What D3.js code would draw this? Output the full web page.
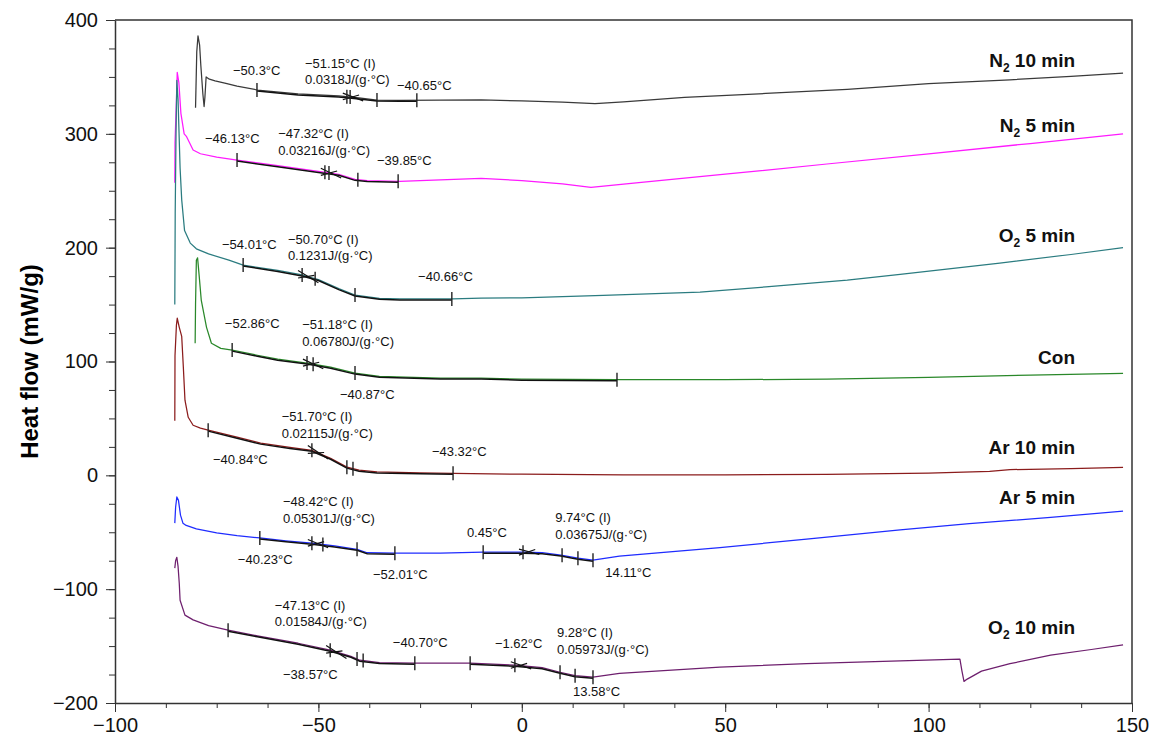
<!DOCTYPE html>
<html>
<head>
<meta charset="utf-8">
<script src="https://cdn.jsdelivr.net/npm/d3@7"></script>
<style>
  body { margin: 0; background: #fff; }
  text { font-family: "Liberation Sans", Arial, sans-serif; }
</style>
</head>
<body>
<script>
//DSC heat flow curves
//each series is [temperature (°C), heat flow (mW/g)]
var n2_10min = [[-80.2,323],[-79.9,372],[-79.6,386],[-79.2,378],[-78.9,360],[-78.4,335],[-78.1,324],[-77.9,332],
    [-77.6,350],[-76.8,348],[-75.4,346.5],[-73,344.5],[-70,342],[-65,338.5],[-55,335],[-45,333.3],[-40,331.5],
    [-35.6,329.7],[-30,329.5],[-20,329.6],[-10,329.8],[0,329],[10,327.8],[18,326.5],[25,328],[40,332],
    [60,335.5],[80,339],[100,344],[120,347.5],[135,350.5],[147.8,353.3]];
var n2_5min = [[-85.3,257],[-85.25,292],[-84.9,330],[-84.7,354],[-84.3,345],[-83.8,318],[-83,300],[-82.4,297.5],
    [-80.8,285.8],[-79,282.5],[-75,279.5],[-70,277],[-60,272],[-50,267],[-45,264.5],[-41,260],[-38,259],
    [-30,258.3],[-20,259.5],[-10,260.8],[0,259],[10,256],[17,253],[30,257.5],[50,264.5],[75,273.5],
    [100,282.5],[125,291.5],[147.8,300]];
var o2_5min = [[-85.3,150],[-85.2,230],[-85,300],[-84.8,347],[-84.5,330],[-84,270],[-83.6,242],[-82.9,215],
    [-81.5,204],[-80,199],[-77,194.5],[-72,189],[-68.5,184.7],[-60,180],[-54,176],[-50,172],[-45,164],
    [-41,158.4],[-35,155.5],[-30,155],[-17,155],[-10,155.7],[0,156],[20,158],[43.8,161],[60,165.5],
    [80,171.5],[93,176.5],[117.5,186.5],[135,194],[147.8,200]];
var con = [[-80.3,116],[-80.2,150],[-80,189],[-79.7,191],[-79.3,175],[-78.8,154],[-77.5,130],[-76.3,116],
    [-74,111.5],[-71.2,110],[-65,105.5],[-60,102],[-52.8,98.6],[-47,95],[-41,89.8],[-35,87],[-20,85.5],
    [-10,85.4],[0,84.5],[23.4,84],[50,84],[75,84.5],[100,86],[125,88],[147.8,89.5]];
var ar_10min = [[-85.3,48],[-85.25,105],[-84.9,132],[-84.7,138],[-84.2,130],[-83.6,122],[-83.2,95],[-82.8,66],
    [-82,51],[-80.8,44],[-79,41.5],[-77.1,39.7],[-70,33.5],[-64.2,28.3],[-57,24.5],[-51.6,22],[-47,15],
    [-43,7.2],[-40,4.5],[-35.6,3],[-25,2.2],[-16.9,1.8],[0,1],[25,0.5],[50,0.5],[75,0.8],[100,2],
    [115,3.5],[120,5],[135,6],[147.8,7]];
var ar_5min = [[-85.3,-42],[-85.1,-28],[-84.8,-19],[-84.4,-22],[-83.9,-35],[-83.3,-42],[-82.5,-44],[-80,-47],
    [-75,-50.5],[-70,-53],[-64.4,-55],[-58,-57.5],[-51.6,-59.6],[-46,-62],[-40.5,-65],[-38,-68],
    [-31.2,-68.4],[-20,-68.4],[-9.5,-67.5],[0.3,-67.5],[5,-68],[9.6,-70],[13.8,-72.8],[17.5,-74.5],
    [24,-71],[48.7,-63.5],[70,-56],[93,-48],[110,-42.5],[130,-37],[147.8,-31.5]];
var o2_10min = [[-85.3,-81.5],[-85.1,-75],[-84.8,-72],[-84.5,-80],[-84.2,-95],[-84,-109.7],[-82.8,-122.8],
    [-80.8,-127],[-77,-132],[-72.2,-136],[-65,-141],[-55,-147.5],[-47.1,-153.6],[-42,-159],[-39.8,-162.4],
    [-35,-164.5],[-26.3,-165],[-12.7,-165],[-1.7,-166.8],[5,-169],[9.4,-173],[13.1,-176],[17.5,-177.3],
    [24,-174],[48.7,-168.5],[70,-165.5],[93,-163],[107.7,-161.5],[108.2,-172],[108.7,-181],[109.5,-179],
    [113,-172],[120,-165.5],[130,-158],[140,-153],[147.8,-149]];

var seriesData = [n2_10min, n2_5min, o2_5min, con, ar_10min, ar_5min, o2_10min];
//name parts: main text, subscript, rest
var seriesNames = [["N","2"," 10 min"],["N","2"," 5 min"],["O","2"," 5 min"],["Con","",""],
    ["Ar 10 min","",""],["Ar 5 min","",""],["O","2"," 10 min"]];
var seriesColors = ["#3a3a3a","#ff1aff","#2b7c80","#2a882a","#8b1c1c","#1f2cff","#6e1f6e"];
//where each name sits (temperature, heat flow of baseline)
var nameAnchors = [[136,358.7],[136,302],[136,205],[136,97.7],[136,19],[136,-25.3],[136,-139.1]];

//analysis marks: tick temperatures and the black fitted ranges
var markTicks = [
    [-65.1,-43.0,-42.2,-35.6,-25.8],
    [-70.0,-48.4,-47.4,-40.3,-30.4],
    [-68.5,-54.0,-50.8,-41.0,-17.2],
    [-71.2,-52.8,-51.3,-41.0,23.4],
    [-77.1,-51.6,-43.0,-41.5,-16.9],
    [-64.4,-51.6,-48.9,-40.5,-31.2,-9.5,0.3,9.9,13.8,17.5],
    [-72.2,-47.1,-40.5,-39.0,-26.3,-12.7,-1.7,9.4,13.1,17.5]
];
var markRanges = [
    [[-65.1,-25.8]],
    [[-70,-30.4]],
    [[-68.5,-17.2]],
    [[-71.2,23.4]],
    [[-77.1,-16.9]],
    [[-64.4,-31.2],[-9.5,17.5]],
    [[-72.2,-26.3],[-12.7,17.5]]
];
//inflection points (first tick of each glass transition step)
var inflections = [[0,-43.0],[1,-48.4],[2,-54.0],[3,-52.8],[4,-51.6],[5,-51.6],[5,0.3],[6,-47.1],[6,-1.7]];

//annotation texts: [text, temperature, heat flow] of the text's left baseline
var annotations = [
    ["\u221250.3\u00b0C",-71.0,351.7],["\u221251.15\u00b0C (I)",-53.3,357.8],["0.0318J/(g\u00b7\u00b0C)",-53.3,344.2],
    ["\u221240.65\u00b0C",-30.7,338.5],
    ["\u221246.13\u00b0C",-77.9,291.9],["\u221247.32\u00b0C (I)",-59.9,296.7],["0.03216J/(g\u00b7\u00b0C)",-59.9,281.8],
    ["\u221239.85\u00b0C",-35.6,273.0],
    ["\u221254.01\u00b0C",-73.7,198.8],["\u221250.70\u00b0C (I)",-57.5,203.6],["0.1231J/(g\u00b7\u00b0C)",-57.5,189.1],
    ["\u221240.66\u00b0C",-25.5,170.7],
    ["\u221252.86\u00b0C",-73.0,129.3],["\u221251.18\u00b0C (I)",-54.0,128.9],["0.06780J/(g\u00b7\u00b0C)",-54.0,113.5],
    ["\u221240.87\u00b0C",-44.7,67.0],
    ["\u221251.70\u00b0C (I)",-59.0,47.6],["0.02115J/(g\u00b7\u00b0C)",-59.0,32.7],["\u221240.84\u00b0C",-75.9,9.8],
    ["\u221243.32\u00b0C",-22.1,16.9],
    ["\u221248.42\u00b0C (I)",-58.7,-27.1],["0.05301J/(g\u00b7\u00b0C)",-58.7,-42.0],["\u221240.23\u00b0C",-69.8,-78.0],
    ["\u221252.01\u00b0C",-36.6,-91.2],["0.45\u00b0C",-13.5,-54.3],["9.74\u00b0C (I)",8.2,-41.1],
    ["0.03675J/(g\u00b7\u00b0C)",8.2,-55.6],["14.11\u00b0C",20.5,-89.5],
    ["\u221247.13\u00b0C (I)",-60.7,-118.5],["0.01584J/(g\u00b7\u00b0C)",-60.7,-132.5],["\u221238.57\u00b0C",-58.7,-179.1],
    ["\u221240.70\u00b0C",-31.7,-151.0],["\u22121.62\u00b0C",-6.6,-151.8],["9.28\u00b0C (I)",8.65,-142.2],
    ["0.05973J/(g\u00b7\u00b0C)",8.65,-156.7],["13.58\u00b0C",12.6,-194.0]
];

var xTicks = [-100,-50,0,50,100,150];
var yTicks = [-200,-100,0,100,200,300,400];

var width = 1153, height = 738;
var plotLeft = 115, plotRight = 1132, plotTop = 20, plotBottom = 703;

var svg = d3.select("body")
    .append("svg")
    .attr("width", width)
    .attr("height", height);

//scales
var x = d3.scaleLinear()
    .domain([-100, 150])
    .range([plotLeft, plotRight]);

var y = d3.scaleLinear()
    .domain([-200, 400])
    .range([plotBottom, plotTop]);

function fmt(d){
    return d < 0 ? "\u2212" + Math.abs(d) : String(d);
}

//minor ticks first so the major ones sit over them
svg.append("g")
    .attr("transform", "translate(0," + plotBottom + ")")
    .call(d3.axisBottom(x).tickValues(d3.range(-100, 150.1, 12.5)).tickSize(5).tickFormat(""))
    .call(function(g){ g.select(".domain").remove(); });

svg.append("g")
    .attr("transform", "translate(" + plotLeft + ",0)")
    .call(d3.axisLeft(y).tickValues(d3.range(-200, 400.1, 25)).tickSize(6).tickFormat(""))
    .call(function(g){ g.select(".domain").remove(); });

var xAxis = svg.append("g")
    .attr("class", "axis")
    .attr("transform", "translate(0," + plotBottom + ")")
    .call(d3.axisBottom(x).tickValues(xTicks).tickSize(9).tickPadding(6).tickSizeOuter(0).tickFormat(fmt));

var yAxis = svg.append("g")
    .attr("class", "axis")
    .attr("transform", "translate(" + plotLeft + ",0)")
    .call(d3.axisLeft(y).tickValues(yTicks).tickSize(9).tickPadding(8).tickSizeOuter(0).tickFormat(fmt));

svg.selectAll(".axis text")
    .style("font-size", "20px")
    .style("fill", "#111");
svg.selectAll(".tick line").style("stroke", "#333");
svg.selectAll(".domain").style("stroke", "#333").style("stroke-width", 1.5);

//top and right edges of the frame
svg.append("path")
    .attr("d", "M" + plotLeft + "," + y(400) + "H" + x(150) + "V" + y(-200))
    .style("fill", "none")
    .style("stroke", "#333")
    .style("stroke-width", 1.5);

svg.append("text")
    .attr("transform", "translate(38," + ((plotTop + plotBottom) / 2) + ") rotate(-90)")
    .attr("text-anchor", "middle")
    .style("font-size", "24px")
    .style("font-weight", "bold")
    .text("Heat flow (mW/g)");

var line = d3.line()
    .x(function(d){ return x(d[0]); })
    .y(function(d){ return y(d[1]); });

//heat flow at a given temperature, linear between read points
function valueAt(data, t){
    var i = d3.bisector(function(d){ return d[0]; }).left(data, t);
    if (i <= 0) return data[0][1];
    if (i >= data.length) return data[data.length - 1][1];
    var a = data[i - 1], b = data[i];
    return a[1] + (b[1] - a[1]) * (t - a[0]) / (b[0] - a[0]);
}

//the curves
svg.selectAll(".curve")
    .data(seriesData)
    .enter()
    .append("path")
    .attr("class", "curve")
    .attr("d", line)
    .style("fill", "none")
    .style("stroke", function(d, i){ return seriesColors[i]; })
    .style("stroke-width", 1.25)
    .style("stroke-linejoin", "round");

//black fitted segments over the curves
markRanges.forEach(function(ranges, i){
    var data = seriesData[i];
    ranges.forEach(function(r){
        var pts = [[r[0], valueAt(data, r[0])]]
            .concat(data.filter(function(d){ return d[0] > r[0] && d[0] < r[1]; }))
            .concat([[r[1], valueAt(data, r[1])]]);
        svg.append("path")
            .attr("d", line(pts))
            .attr("transform", "translate(0,1)")
            .style("fill", "none")
            .style("stroke", "#111")
            .style("stroke-width", 1.5);
    });
});

//tangent lines crossing at the inflection points
inflections.forEach(function(f){
    var data = seriesData[f[0]];
    var t = f[1];
    var slope = (valueAt(data, t + 4) - valueAt(data, t - 4)) / 8;
    svg.append("line")
        .attr("x1", x(t - 1))
        .attr("y1", y(valueAt(data, t) - slope * 1.6) - 3)
        .attr("x2", x(t + 4))
        .attr("y2", y(valueAt(data, t) + slope * 6) + 2)
        .style("stroke", "#111")
        .style("stroke-width", 1.2);
    svg.append("line")
        .attr("x1", x(t - 1))
        .attr("y1", y(valueAt(data, t)) + 3)
        .attr("x2", x(t + 3))
        .attr("y2", y(valueAt(data, t + 3)) - 3)
        .style("stroke", "#111")
        .style("stroke-width", 1.2);
});

//vertical ticks of the analysis
markTicks.forEach(function(ticks, i){
    var data = seriesData[i];
    svg.selectAll(".mt" + i)
        .data(ticks)
        .enter()
        .append("line")
        .attr("class", "mt" + i)
        .attr("x1", function(d){ return x(d); })
        .attr("x2", function(d){ return x(d); })
        .attr("y1", function(d){ return y(valueAt(data, d)) - 7; })
        .attr("y2", function(d){ return y(valueAt(data, d)) + 7; })
        .style("stroke", "#222")
        .style("stroke-width", 1.4);
});

//annotation texts
svg.selectAll(".note")
    .data(annotations)
    .enter()
    .append("text")
    .attr("class", "note")
    .attr("x", function(d){ return x(d[1]); })
    .attr("y", function(d){ return y(d[2]); })
    .style("font-size", "13px")
    .style("fill", "#111")
    .text(function(d){ return d[0]; });

//series names on the right
var names = svg.selectAll(".name")
    .data(seriesNames)
    .enter()
    .append("text")
    .attr("class", "name")
    .attr("x", function(d, i){ return x(nameAnchors[i][0]); })
    .attr("y", function(d, i){ return y(nameAnchors[i][1]); })
    .attr("text-anchor", "end")
    .style("font-size", "19px")
    .style("font-weight", "bold")
    .style("fill", "#111");

names.each(function(d){
    var t = d3.select(this);
    t.append("tspan").text(d[0]);
    if (d[1]) {
        t.append("tspan").attr("dy", 5).style("font-size", "12px").text(d[1]);
        t.append("tspan").attr("dy", -5).text(d[2]);
    }
});
</script>
</body>
</html>
